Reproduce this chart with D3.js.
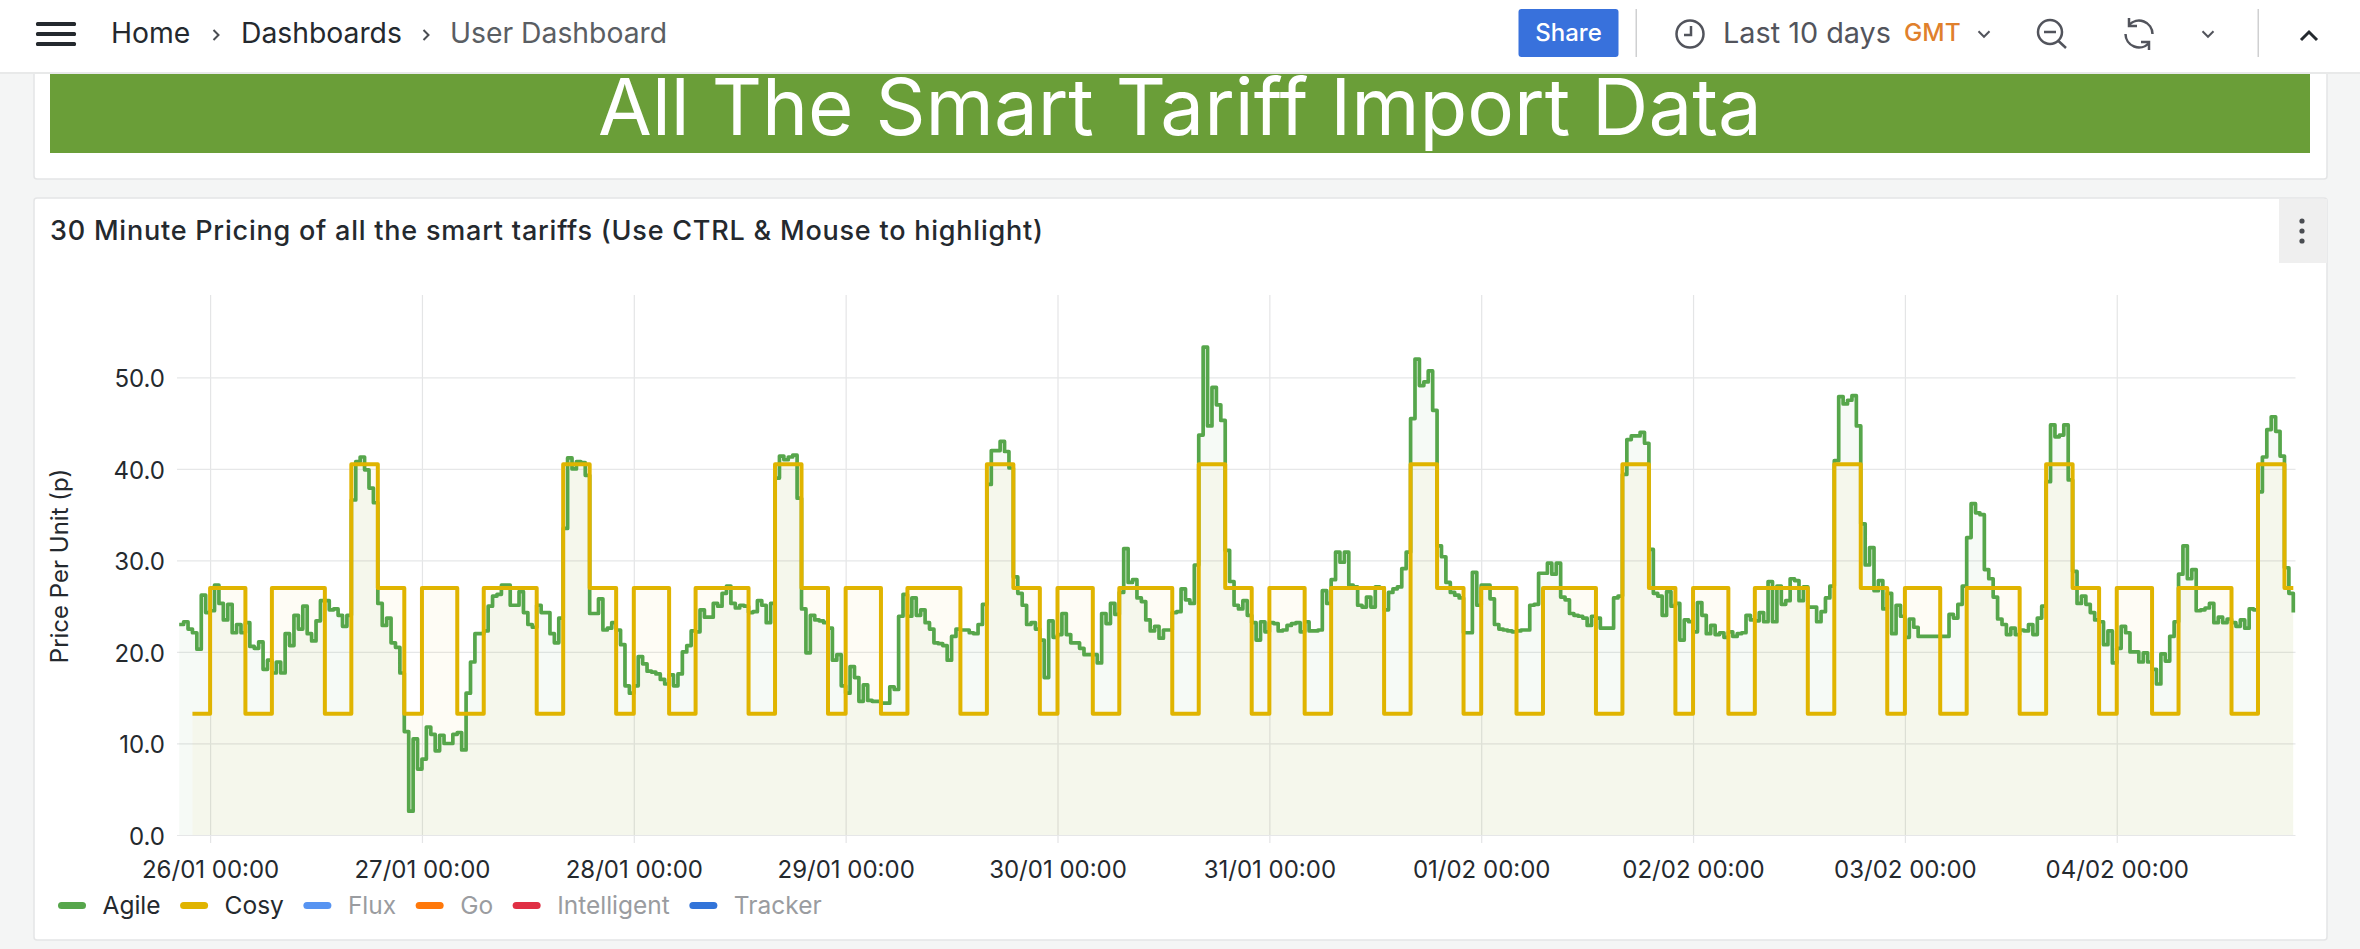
<!DOCTYPE html>
<html>
<head>
<meta charset="utf-8">
<script src="https://cdnjs.cloudflare.com/ajax/libs/d3/7.8.5/d3.min.js"></script>
<style>
  html, body { margin: 0; padding: 0; background: #f4f5f5; overflow: hidden; }
  svg { display: block; }
  text { font-family: Inter, "Noto Sans", sans-serif; }
</style>
</head>
<body>
<div id="chart"></div>
<script>
var breadcrumbs = ["Home", "Dashboards", "User Dashboard"];
var bannerTitle = "All The Smart Tariff Import Data";
var panelTitle = "30 Minute Pricing of all the smart tariffs (Use CTRL & Mouse to highlight)";
var yAxisTitle = "Price Per Unit (p)";

var legendNames = ["Agile", "Cosy", "Flux", "Go", "Intelligent", "Tracker"];
var legendColors = ["#56a64b", "#e0b400", "#5794f2", "#ff780a", "#e02f44", "#3274d9"];
var legendHidden = [false, false, true, true, true, true];

var yTicks = [0, 10, 20, 30, 40, 50];
var xTickLabels = ["26/01 00:00", "27/01 00:00", "28/01 00:00", "29/01 00:00", "30/01 00:00",
	"31/01 00:00", "01/02 00:00", "02/02 00:00", "03/02 00:00", "04/02 00:00"];

// half hourly from 25/01 20:30
var agileStart = "25/01 20:30";
var agileValues = [
	23.0, 23.3, 22.5, 22.1, 20.3, 26.2, 24.3,
	// 26/01
	24.5, 27.3, 25.3, 23.5, 25.2, 22.1, 23.0, 22.1, 23.2, 20.6, 20.4, 21.1,
	18.1, 19.1, 17.7, 18.9, 17.7, 22.0, 20.7, 24.0, 22.5, 25.0, 22.0, 21.2,
	23.4, 25.6, 25.6, 24.6, 24.7, 24.0, 22.8, 24.0, 36.6, 40.8, 41.3, 39.9,
	37.9, 36.3, 25.3, 22.9, 23.7, 21.0, 20.5, 17.7, 11.3, 2.6, 10.5, 7.2,
	// 27/01
	8.3, 11.8, 11.0, 9.2, 10.9, 10.0, 10.0, 11.0, 11.2, 9.3, 15.5, 18.9,
	22.0, 22.0, 22.3, 25.0, 26.1, 26.3, 27.3, 27.3, 25.1, 25.1, 26.6, 24.3,
	23.0, 22.7, 25.1, 24.3, 24.3, 22.0, 21.0, 23.7, 33.5, 41.2, 40.0, 40.8,
	40.7, 39.3, 24.2, 24.2, 25.8, 22.4, 22.6, 23.2, 22.4, 20.8, 16.3, 15.5,
	// 28/01
	16.3, 19.5, 18.7, 17.9, 17.8, 17.6, 17.0, 16.5, 17.5, 16.3, 17.6, 20.0,
	20.7, 22.3, 22.2, 24.6, 23.8, 23.8, 25.3, 25.0, 26.4, 27.2, 25.3, 24.8,
	25.1, 25.0, 24.3, 24.4, 25.6, 25.1, 23.2, 25.3, 39.0, 41.4, 41.0, 41.3,
	41.5, 36.8, 24.7, 19.9, 24.0, 23.5, 23.4, 23.2, 22.6, 19.1, 19.7, 16.3,
	// 29/01
	15.5, 18.4, 17.2, 14.6, 16.4, 14.7, 14.6, 14.6, 14.4, 14.4, 16.2, 15.9,
	23.9, 26.3, 23.9, 25.9, 24.0, 24.6, 23.2, 22.5, 21.0, 20.9, 20.7, 19.1,
	21.7, 22.5, 22.4, 22.4, 22.1, 22.0, 23.0, 25.2, 38.3, 42.0, 42.0, 43.0,
	41.9, 40.1, 28.2, 26.4, 25.1, 23.0, 23.2, 22.5, 21.3, 17.2, 23.4, 21.6,
	// 30/01
	21.9, 24.2, 21.9, 21.0, 21.0, 20.4, 19.7, 19.7, 19.7, 18.8, 24.2, 23.1,
	25.3, 24.1, 26.5, 31.3, 27.6, 27.9, 25.9, 25.5, 23.5, 22.3, 22.8, 21.5,
	22.4, 22.4, 24.3, 24.4, 26.9, 25.7, 25.3, 29.5, 43.7, 53.3, 44.7, 48.9,
	47.0, 45.3, 31.1, 27.7, 25.1, 24.7, 25.6, 24.0, 23.2, 21.3, 23.3, 22.2,
	// 31/01
	23.2, 23.1, 22.3, 22.4, 22.9, 23.1, 23.2, 22.2, 23.3, 22.3, 22.3, 22.4,
	26.7, 25.3, 27.9, 30.9, 29.8, 30.9, 27.3, 27.1, 25.1, 24.9, 26.0, 24.9,
	27.1, 27.0, 24.6, 26.5, 26.9, 27.1, 29.1, 30.9, 45.5, 52.0, 49.1, 49.5,
	50.7, 46.4, 31.6, 30.4, 27.6, 26.5, 26.2, 25.9, 22.1, 22.1, 28.7, 25.1,
	// 01/02
	27.3, 27.3, 25.8, 23.0, 22.5, 22.4, 22.3, 22.2, 22.3, 22.4, 22.4, 25.1,
	25.2, 28.6, 28.6, 29.7, 28.5, 29.7, 26.0, 25.7, 24.2, 24.0, 23.9, 23.7,
	22.9, 23.9, 23.7, 22.6, 22.6, 22.6, 25.9, 26.1, 39.4, 43.2, 43.6, 43.6,
	44.0, 42.8, 31.2, 26.4, 26.1, 24.0, 26.6, 25.0, 25.3, 21.3, 23.5, 23.3,
	// 02/02
	22.2, 25.4, 24.0, 22.0, 22.9, 21.9, 22.1, 21.6, 22.2, 21.7, 22.0, 22.1,
	24.0, 23.5, 23.4, 24.3, 23.3, 27.7, 23.3, 27.2, 25.2, 25.6, 28.0, 27.8,
	25.6, 27.1, 24.9, 24.9, 23.3, 24.4, 25.9, 27.2, 40.9, 47.9, 47.1, 47.5,
	48.0, 44.7, 34.0, 29.5, 31.4, 26.7, 27.8, 24.7, 26.4, 22.0, 25.1, 23.9,
	// 03/02
	21.6, 23.6, 22.7, 21.7, 21.7, 21.7, 21.7, 21.7, 21.7, 21.7, 24.1, 23.7,
	25.2, 27.2, 32.5, 36.2, 35.2, 35.0, 29.0, 28.0, 26.0, 23.6, 23.0, 21.9,
	22.6, 21.9, 22.4, 22.3, 23.0, 21.9, 23.7, 25.0, 38.6, 44.8, 43.5, 43.7,
	44.8, 38.8, 28.8, 25.3, 26.1, 25.2, 24.3, 23.5, 23.3, 20.8, 22.3, 18.8,
	// 04/02
	20.4, 22.8, 22.1, 20.0, 20.0, 18.9, 19.9, 18.9, 18.1, 16.5, 19.8, 19.0,
	21.7, 23.3, 28.5, 31.6, 28.0, 29.0, 24.5, 24.6, 24.8, 25.3, 23.2, 23.8,
	23.2, 23.6, 23.2, 22.8, 23.5, 22.6, 24.7, 24.6, 37.5, 41.3, 44.3, 45.7,
	44.1, 41.4, 29.2, 26.4, 24.3
];

// Cosy only moves at its fixed change times
var cosyTimes = ["25/01 22:00",
	"26/01 00:00", "26/01 04:00", "26/01 07:00", "26/01 13:00", "26/01 16:00", "26/01 19:00", "26/01 22:00",
	"27/01 00:00", "27/01 04:00", "27/01 07:00", "27/01 13:00", "27/01 16:00", "27/01 19:00", "27/01 22:00",
	"28/01 00:00", "28/01 04:00", "28/01 07:00", "28/01 13:00", "28/01 16:00", "28/01 19:00", "28/01 22:00",
	"29/01 00:00", "29/01 04:00", "29/01 07:00", "29/01 13:00", "29/01 16:00", "29/01 19:00", "29/01 22:00",
	"30/01 00:00", "30/01 04:00", "30/01 07:00", "30/01 13:00", "30/01 16:00", "30/01 19:00", "30/01 22:00",
	"31/01 00:00", "31/01 04:00", "31/01 07:00", "31/01 13:00", "31/01 16:00", "31/01 19:00", "31/01 22:00",
	"01/02 00:00", "01/02 04:00", "01/02 07:00", "01/02 13:00", "01/02 16:00", "01/02 19:00", "01/02 22:00",
	"02/02 00:00", "02/02 04:00", "02/02 07:00", "02/02 13:00", "02/02 16:00", "02/02 19:00", "02/02 22:00",
	"03/02 00:00", "03/02 04:00", "03/02 07:00", "03/02 13:00", "03/02 16:00", "03/02 19:00", "03/02 22:00",
	"04/02 00:00", "04/02 04:00", "04/02 07:00", "04/02 13:00", "04/02 16:00", "04/02 19:00", "04/02 20:00"];
var cosyValues = [13.25,
	27.0, 13.25, 27.0, 13.25, 40.5, 27.0, 13.25,
	27.0, 13.25, 27.0, 13.25, 40.5, 27.0, 13.25,
	27.0, 13.25, 27.0, 13.25, 40.5, 27.0, 13.25,
	27.0, 13.25, 27.0, 13.25, 40.5, 27.0, 13.25,
	27.0, 13.25, 27.0, 13.25, 40.5, 27.0, 13.25,
	27.0, 13.25, 27.0, 13.25, 40.5, 27.0, 13.25,
	27.0, 13.25, 27.0, 13.25, 40.5, 27.0, 13.25,
	27.0, 13.25, 27.0, 13.25, 40.5, 27.0, 13.25,
	27.0, 13.25, 27.0, 13.25, 40.5, 27.0, 13.25,
	27.0, 13.25, 27.0, 13.25, 40.5, 27.0, 27.0];

var width = 2360, height = 949;
var parseTime = d3.utcParse("%d/%m %H:%M");
var formatTime = d3.utcFormat("%d/%m %H:%M");

var agileData = agileValues.map(function(v, i) {
	return { t: d3.utcMinute.offset(parseTime(agileStart), i * 30), v: v };
});
var cosyData = cosyValues.map(function(v, i) {
	return { t: parseTime(cosyTimes[i]), v: v };
});

var svg = d3.select("#chart").append("svg")
	.attr("width", width)
	.attr("height", height);

// page panels
svg.append("rect").attr("x", 34).attr("y", -10).attr("width", 2293).attr("height", 189)
	.attr("rx", 3).attr("fill", "#fff").attr("stroke", "#e4e5e6").attr("stroke-width", 1.5);
svg.append("rect").attr("x", 50).attr("y", 74).attr("width", 2260).attr("height", 79).attr("fill", "#6a9e38");
svg.append("text").attr("x", 1180).attr("y", 135).attr("text-anchor", "middle")
	.attr("font-size", 78).attr("fill", "#fff").text(bannerTitle);

svg.append("rect").attr("x", 34).attr("y", 198).attr("width", 2293).attr("height", 742)
	.attr("rx", 3).attr("fill", "#fff").attr("stroke", "#e4e5e6").attr("stroke-width", 1.5);
svg.append("text").attr("x", 50).attr("y", 240).attr("font-size", 27).attr("font-weight", 500)
	.attr("letter-spacing", 0.78).attr("fill", "#24292e").text(panelTitle);
svg.append("rect").attr("x", 2279).attr("y", 199).attr("width", 48).attr("height", 64)
	.attr("fill", "#efefef");
[221, 231, 241].forEach(function(y) {
	svg.append("circle").attr("cx", 2302).attr("cy", y).attr("r", 2.6).attr("fill", "#4a4d52");
});

// plot
var x = d3.scaleUtc()
	.domain([parseTime("25/01 20:15"), parseTime("04/02 20:15")])
	.range([177, 2295.5]);
var y = d3.scaleLinear()
	.domain([0, 59])
	.range([835, 295]);

svg.append("g")
	.attr("class", "xgrid")
	.attr("transform", "translate(0," + y(0) + ")")
	.call(d3.axisBottom(x)
		.tickValues(xTickLabels.map(parseTime))
		.tickSize(-(y(0) - y(59)))
		.tickFormat(""))
	.call(function(g) {
		g.select(".domain").remove();
		g.selectAll("line").attr("stroke", "#e4e5e6").attr("stroke-width", 1.2).attr("y2", 8).attr("y1", -(y(0) - y(59)));
	});

var yAxis = svg.append("g")
	.attr("transform", "translate(177,0)")
	.call(d3.axisLeft(y)
		.tickValues(yTicks)
		.tickSize(-(x.range()[1] - x.range()[0]))
		.tickPadding(12)
		.tickFormat(d3.format(".1f")));
yAxis.select(".domain").remove();
yAxis.selectAll("line").attr("stroke", "#e6e7e8").attr("stroke-width", 1.2);
yAxis.selectAll("text").attr("font-size", 24).attr("fill", "#24292e").attr("dy", "0.38em").style("font-family", "Inter");

var xAxis = svg.append("g")
	.attr("transform", "translate(0," + y(0) + ")")
	.call(d3.axisBottom(x)
		.tickValues(xTickLabels.map(parseTime))
		.tickSize(0)
		.tickPadding(25.5)
		.tickFormat(formatTime));
xAxis.select(".domain").remove();
xAxis.selectAll("text").attr("font-size", 24).attr("fill", "#24292e").style("font-family", "Inter");

svg.append("text")
	.attr("transform", "translate(68,566) rotate(-90)")
	.attr("text-anchor", "middle")
	.attr("font-size", 24)
	.attr("fill", "#24292e")
	.text(yAxisTitle);

var area = d3.area()
	.curve(d3.curveStepAfter)
	.x(function(d) { return x(d.t); })
	.y0(y(0))
	.y1(function(d) { return y(d.v); });

var line = d3.line()
	.curve(d3.curveStepAfter)
	.x(function(d) { return x(d.t); })
	.y(function(d) { return y(d.v); });

svg.append("path").datum(agileData).attr("d", area).attr("fill", "#56a64b").attr("fill-opacity", 0.05);
svg.append("path").datum(cosyData).attr("d", area).attr("fill", "#e0b400").attr("fill-opacity", 0.04);
svg.append("path").datum(agileData).attr("d", line).attr("fill", "none")
	.attr("stroke", legendColors[0]).attr("stroke-width", 3.7).attr("stroke-linejoin", "round");
svg.append("path").datum(cosyData).attr("d", line).attr("fill", "none")
	.attr("stroke", legendColors[1]).attr("stroke-width", 4).attr("stroke-linejoin", "round");

// legend
var legendX = 58;
legendNames.forEach(function(name, i) {
	svg.append("rect").attr("x", legendX).attr("y", 902).attr("width", 28).attr("height", 7)
		.attr("rx", 3.5).attr("fill", legendColors[i]);
	var label = svg.append("text")
		.attr("x", legendX + 44.5)
		.attr("y", 914)
		.attr("font-size", 24.5)
		.attr("fill", legendHidden[i] ? "#9a9ca0" : "#24292e")
		.text(name);
	legendX += 44.5 + label.node().getComputedTextLength() + 19.5;
});

// top bar
svg.append("rect").attr("width", width).attr("height", 72).attr("fill", "#fff");
svg.append("rect").attr("y", 72).attr("width", width).attr("height", 2).attr("fill", "#e8e9e9");

[24, 34, 44].forEach(function(by) {
	svg.append("rect").attr("x", 36).attr("y", by - 2).attr("width", 40).attr("height", 4)
		.attr("rx", 1.5).attr("fill", "#24292e");
});

var crumbX = [111, 241, 450];
var crumbColor = ["#24292e", "#24292e", "#5a5e63"];
breadcrumbs.forEach(function(b, i) {
	svg.append("text").attr("x", crumbX[i]).attr("y", 43).attr("font-size", 28.3)
		.attr("fill", crumbColor[i]).text(b);
});

function chevron(cx, cy, s, dir, w, c) {
	var p;
	if (dir == "right") p = "M" + (cx - s / 2) + "," + (cy - s) + "L" + (cx + s / 2) + "," + cy + "L" + (cx - s / 2) + "," + (cy + s);
	if (dir == "down") p = "M" + (cx - s) + "," + (cy - s / 2) + "L" + cx + "," + (cy + s / 2) + "L" + (cx + s) + "," + (cy - s / 2);
	if (dir == "up") p = "M" + (cx - s) + "," + (cy + s / 2) + "L" + cx + "," + (cy - s / 2) + "L" + (cx + s) + "," + (cy + s / 2);
	svg.append("path").attr("d", p).attr("fill", "none").attr("stroke", c).attr("stroke-width", w);
}
chevron(216, 35, 5, "right", 2, "#4a4d52");
chevron(426, 35, 5, "right", 2, "#4a4d52");

svg.append("rect").attr("x", 1518.5).attr("y", 9).attr("width", 100).attr("height", 48)
	.attr("rx", 3).attr("fill", "#3871dc");
svg.append("text").attr("x", 1568.5).attr("y", 41).attr("text-anchor", "middle")
	.attr("font-size", 24).attr("font-weight", 500).attr("fill", "#fff").text("Share");

svg.append("rect").attr("x", 1635.5).attr("y", 9).attr("width", 1.5).attr("height", 48).attr("fill", "#cfd0d1");
svg.append("rect").attr("x", 2257.5).attr("y", 9).attr("width", 1.5).attr("height", 48).attr("fill", "#cfd0d1");

// clock
svg.append("circle").attr("cx", 1690).attr("cy", 34).attr("r", 13.5).attr("fill", "none")
	.attr("stroke", "#52545c").attr("stroke-width", 2.5);
svg.append("path").attr("d", "M1691,26V35H1684").attr("fill", "none").attr("stroke", "#52545c").attr("stroke-width", 2.5);

svg.append("text").attr("x", 1723).attr("y", 43).attr("font-size", 28.8).attr("fill", "#52545c").text("Last 10 days");
svg.append("text").attr("x", 1904).attr("y", 41).attr("font-size", 24.5).attr("font-weight", 500).attr("fill", "#e0802c").text("GMT");
chevron(1984, 34, 5.5, "down", 2, "#52545c");

// zoom out
svg.append("circle").attr("cx", 2050).attr("cy", 32).attr("r", 12).attr("fill", "none")
	.attr("stroke", "#52545c").attr("stroke-width", 2.5);
svg.append("path").attr("d", "M2044,32H2056M2058.5,41L2066,48").attr("fill", "none")
	.attr("stroke", "#52545c").attr("stroke-width", 2.5);

// refresh
svg.append("path").attr("d", "M2129,25A13.5,13.5 0 0 1 2152.5,34M2129,18V26H2137M2149,43A13.5,13.5 0 0 1 2125.5,34M2149,50V42H2141")
	.attr("fill", "none").attr("stroke", "#52545c").attr("stroke-width", 2.5);
chevron(2208, 34, 5.5, "down", 2, "#52545c");
chevron(2309, 36, 8, "up", 3, "#24292e");
</script>
</body>
</html>
